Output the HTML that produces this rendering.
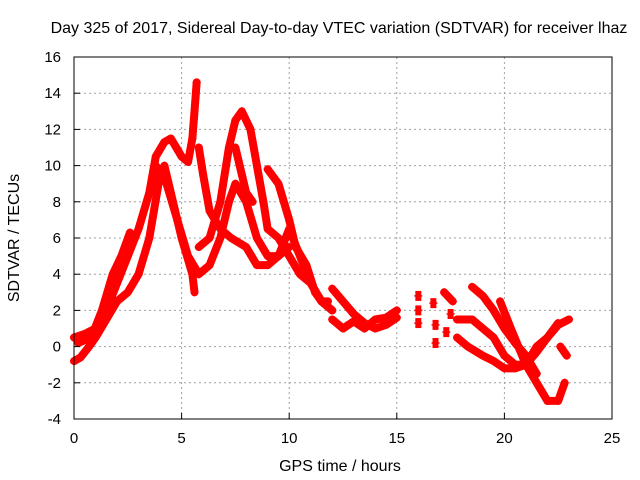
<!DOCTYPE html>
<html><head><meta charset="utf-8"><style>
body{margin:0;background:#fff}
svg{display:block;font-family:"Liberation Sans",sans-serif}
</style></head><body>
<svg id="chart" width="640" height="480" viewBox="0 0 640 480">
<text x="339" y="33" text-anchor="middle" font-size="16">Day 325 of 2017, Sidereal Day-to-day VTEC variation (SDTVAR) for receiver lhaz</text>
<g id="grid"></g>
<g id="marks"></g>
<rect x="74" y="57" width="538" height="362" fill="none" stroke="#000" stroke-width="1"/>
<g id="ticks"></g>
<text x="340" y="471" text-anchor="middle" font-size="16">GPS time / hours</text>
<text transform="translate(19,238) rotate(-90)" text-anchor="middle" font-size="16">SDTVAR / TECUs</text>
</svg>
<script>
const xTicks=[0,5,10,15,20,25];
const yTicks=[-4,-2,0,2,4,6,8,10,12,14,16];
const track1=[[0,0.5],[0.5,0.7],[1,1],[1.5,2],[2,3.5],[2.5,5],[3,6.5],[3.5,8.5],[3.8,10.5],[4.2,11.3],[4.5,11.5],[5,10.5],[5.3,10.2],[5.5,11.5],[5.6,13],[5.7,14.6]];
const track2=[[0,-0.8],[0.3,-0.6],[0.7,0],[1,0.5],[1.5,1.5],[2,2.5],[2.5,3],[3,4],[3.5,6],[4,9.5],[4.2,10],[4.5,8.5],[5,6],[5.5,4],[5.6,3]];
const track3=[[0.2,0.2],[0.8,0.5],[1.3,2],[1.8,4],[2.2,5],[2.6,6.3]];
const track4=[[3.8,10],[4.3,9],[4.8,7],[5.3,5],[5.8,4],[6.3,4.5],[6.8,6],[7.2,8],[7.5,9],[8,8],[8.5,6],[9,5],[9.5,5],[10,6.5],[10.5,5],[11,3.5],[11.5,2.5],[12,2]];
const track5=[[5.8,5.5],[6.3,6],[6.8,8],[7.2,11],[7.5,12.5],[7.8,13],[8.2,12],[8.5,10],[8.8,8],[9,6.5],[9.5,6],[10,5],[10.5,4],[11,3.5],[11.5,2.5],[11.8,2.5]];
const track6=[[5.8,11],[6,9.5],[6.3,7.5],[6.8,6.5],[7.3,6],[8,5.5],[8.5,4.5],[9,4.5],[9.5,5],[10,5.5]];
const track7=[[9,9.8],[9.5,9],[10,7],[10.3,5.5],[10.8,4.5],[11.2,3],[11.5,2.5],[12,2]];
const track8=[[7.5,11],[7.8,9.5],[8,8.5],[8.3,8]];
const track9=[[12,3.2],[12.5,2.5],[13,1.8],[13.5,1.3],[14,1],[14.5,1.2],[15,1.6]];
const track10=[[12,1.5],[12.5,1],[13,1.4],[13.5,1],[14,1.5],[14.5,1.6],[15,2]];
const track11=[[17.2,3],[17.6,2.5]];
const track12=[[18.5,3.3],[19,2.8],[19.5,2],[20,1],[20.5,0.2],[21,-0.5],[21.5,-1.5]];
const track13=[[17.8,1.5],[18.5,1.5],[19,1],[19.5,0.5],[20,-0.5],[20.5,-1],[21,-1],[21.5,0],[22,0.5],[22.5,1.2],[23,1.5]];
const track14=[[17.8,0.5],[18.3,0],[19,-0.5],[19.5,-0.8],[20,-1.2],[20.5,-1.2],[21,-1],[21.5,-0.3],[22,0.5],[22.5,1.3]];
const track15=[[19.8,2.5],[20.3,1],[21,-1],[21.5,-2],[22,-3],[22.5,-3],[22.8,-2]];
const track16=[[22.6,0],[22.9,-0.5]];
const isolated=[[16,2.8],[16,2],[16,1.3],[16.7,2.4],[16.8,1.2],[16.8,0.2],[17.5,1.8],[17.3,0.8]];
const tracks=[track1,track2,track3,track4,track5,track6,track7,track8,track9,track10,track11,track12,track13,track14,track15,track16];
const X0=74,X1=612,Y0=419,Y1=57;
const sx=v=>X0+(v-0)/(25-0)*(X1-X0);
const sy=v=>Y0-(v+4)/(16+4)*(Y0-Y1);
const NS="http://www.w3.org/2000/svg";
const grid=document.getElementById('grid'),ticks=document.getElementById('ticks'),marks=document.getElementById('marks');
function mk(tag,attrs,parent){const e=document.createElementNS(NS,tag);for(const k in attrs)e.setAttribute(k,attrs[k]);parent.appendChild(e);return e;}
xTicks.forEach(t=>{
  if(t>0&&t<25){const g=mk('line',{x1:sx(t),x2:sx(t),y1:Y0,y2:Y1,stroke:'#a0a0a0','stroke-dasharray':'2,3'},grid);
  
  }
  mk('line',{x1:sx(t),x2:sx(t),y1:Y0,y2:Y0-6,stroke:'#000'},ticks);
  const l=mk('text',{x:sx(t),y:443,'text-anchor':'middle','font-size':'15'},ticks);l.textContent=t;
  
  
});
yTicks.forEach(t=>{
  if(t>-4&&t<16){const g=mk('line',{x1:X0,x2:X1,y1:sy(t),y2:sy(t),stroke:'#a0a0a0','stroke-dasharray':'2,3'},grid);
  
  }
  mk('line',{x1:X0,x2:X0+6,y1:sy(t),y2:sy(t),stroke:'#000'},ticks);
  const l=mk('text',{x:61,y:sy(t)+5,'text-anchor':'end','font-size':'15'},ticks);l.textContent=t;
  
  
});
function cross(x,y,parent){mk('path',{d:`M${x-4},${y}H${x+4}M${x},${y-4}V${y+4}`,stroke:'#f00','stroke-width':1.5},parent);}
tracks.forEach((tr,i)=>{
  const g=mk('g',{},marks);
  
  
  mk('polyline',{points:tr.map(p=>sx(p[0])+','+sy(p[1])).join(' '),fill:'none',stroke:'#f00','stroke-width':8,'stroke-linejoin':'round','stroke-linecap':'round'},g);
  tr.forEach(p=>cross(sx(p[0]),sy(p[1]),g));
});
const gi=mk('g',{},marks);


isolated.forEach(p=>{mk('rect',{x:sx(p[0])-3,y:sy(p[1])-5,width:6,height:10,fill:'#f00'},gi);cross(sx(p[0]),sy(p[1]),gi);});
</script>
</body></html>
